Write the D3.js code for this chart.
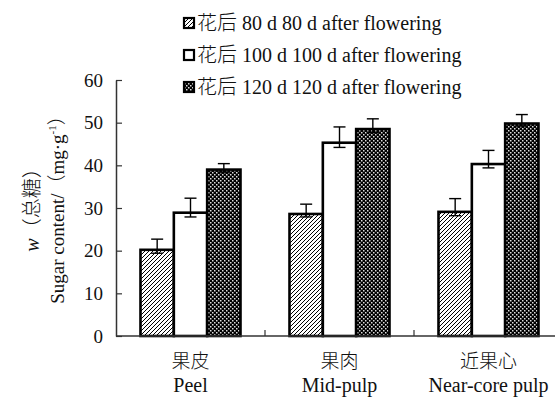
<!DOCTYPE html>
<html lang="en">
<head>
<meta charset="utf-8">
<title>Sugar content</title>
<script src="https://cdnjs.cloudflare.com/ajax/libs/d3/7.8.5/d3.min.js"></script>
<style>
  body { margin: 0; background: #fff; }
  svg text { font-family: "Liberation Serif", "Noto Sans CJK SC", serif; fill: #111; }
</style>
</head>
<body>
<script>
// categories and series
var categoriesCn = ["果皮", "果肉", "近果心"];
var categoriesEn = ["Peel", "Mid-pulp", "Near-core pulp"];
var seriesNames = ["花后 80 d 80 d after flowering", "花后 100 d 100 d after flowering", "花后 120 d 120 d after flowering"];
var d80 = [20.2, 28.6, 29.1];
var d100 = [28.9, 45.3, 40.3];
var d120 = [39.0, 48.5, 49.8];
// error bars as drawn (upper whisker, short lower cap)
var errUp80 = [2.5, 2.3, 3.1];
var errUp100 = [3.4, 3.7, 3.2];
var errUp120 = [1.4, 2.4, 2.1];
var errDn80 = [0.8, 0.7, 0.9];
var errDn100 = [1.0, 1.1, 0.9];
var errDn120 = [0.6, 0.8, 0.6];
var yTicks = [0, 10, 20, 30, 40, 50, 60];

var width = 555, height = 398;
var svg = d3.select("body").append("svg").attr("width", width).attr("height", height);

var defs = svg.append("defs");
// diagonal hatch
var hatch = defs.append("pattern").attr("id", "hatch").attr("patternUnits", "userSpaceOnUse")
  .attr("width", 4).attr("height", 4);
hatch.append("rect").attr("width", 4).attr("height", 4).attr("fill", "#fff");
hatch.append("path").attr("d", "M-1,1 l2,-2 M0,4 l4,-4 M3,5 l2,-2")
  .attr("stroke", "#000").attr("stroke-width", 1);
// dark checker
var check = defs.append("pattern").attr("id", "check").attr("patternUnits", "userSpaceOnUse")
  .attr("width", 4).attr("height", 4);
check.append("rect").attr("width", 4).attr("height", 4).attr("fill", "#000");
check.append("rect").attr("x", 0).attr("y", 0).attr("width", 1.5).attr("height", 1.5).attr("fill", "#ddd");
check.append("rect").attr("x", 2).attr("y", 2).attr("width", 1.5).attr("height", 1.5).attr("fill", "#ddd");

var fills = ["url(#hatch)", "#fff", "url(#check)"];

var x0 = 116, x1 = 563, yTop = 80, yBot = 336;
var x = d3.scaleBand().domain(categoriesEn).range([x0, x1]).padding(0);
var sub = d3.scaleBand().domain([0, 1, 2]).range([24.5, 124.5]).padding(0);
var y = d3.scaleLinear().domain([0, 60]).range([yBot, yTop]);

var series = [
  {vals: d80, up: errUp80, dn: errDn80},
  {vals: d100, up: errUp100, dn: errDn100},
  {vals: d120, up: errUp120, dn: errDn120}
];

// bars
var groups = svg.selectAll(".grp").data(categoriesEn).enter().append("g")
  .attr("class", "grp")
  .attr("transform", function(d) { return "translate(" + x(d) + ",0)"; });

groups.each(function(cat, ci) {
  var g = d3.select(this);
  series.forEach(function(s, si) {
    g.append("rect")
      .attr("x", sub(si))
      .attr("y", y(s.vals[ci]))
      .attr("width", sub.bandwidth())
      .attr("height", yBot - y(s.vals[ci]))
      .attr("fill", fills[si])
      .attr("stroke", "#000")
      .attr("stroke-width", 2.6);
  });
  series.forEach(function(s, si) {
    var cx = sub(si) + sub.bandwidth() / 2;
    var hi = y(s.vals[ci] + s.up[ci]), lo = y(s.vals[ci] - s.dn[ci]);
    g.append("line").attr("x1", cx).attr("x2", cx).attr("y1", hi).attr("y2", lo)
      .attr("stroke", "#000").attr("stroke-width", 1.4);
    [hi, lo].forEach(function(v) {
      g.append("line").attr("x1", cx - 6).attr("x2", cx + 6).attr("y1", v).attr("y2", v)
        .attr("stroke", "#000").attr("stroke-width", 1.4);
    });
  });
});

// y axis
var yAxis = svg.append("g").attr("transform", "translate(" + x0 + ",0)")
  .call(d3.axisLeft(y).tickValues(yTicks).tickSizeInner(-6).tickSizeOuter(0).tickPadding(13));
yAxis.select(".domain").attr("stroke", "#333").attr("stroke-width", 1.5);
yAxis.selectAll(".tick line").attr("stroke", "#333").attr("stroke-width", 1.2);
yAxis.selectAll(".tick text").attr("font-size", 19).attr("fill", "#111")
  .attr("font-family", "Liberation Serif, serif");

// x axis baseline and category ticks
svg.append("line").attr("x1", x0).attr("x2", x1).attr("y1", yBot).attr("y2", yBot)
  .attr("stroke", "#333").attr("stroke-width", 1.5);
svg.selectAll(".xtick").data(categoriesEn.slice(1)).enter().append("line")
  .attr("x1", function(d) { return x(d); }).attr("x2", function(d) { return x(d); })
  .attr("y1", yBot).attr("y2", yBot - 6)
  .attr("stroke", "#333").attr("stroke-width", 1.2);

// x labels
svg.selectAll(".xcn").data(categoriesCn).enter().append("text")
  .attr("x", function(d, i) { return x(categoriesEn[i]) + x.bandwidth() / 2; })
  .attr("y", 368).attr("text-anchor", "middle").attr("font-size", 19)
  .attr("font-family", "Noto Sans CJK SC").attr("font-weight", 300)
  .text(function(d) { return d; });
svg.selectAll(".xen").data(categoriesEn).enter().append("text")
  .attr("x", function(d) { return x(d) + x.bandwidth() / 2; })
  .attr("y", 392).attr("text-anchor", "middle").attr("font-size", 20)
  .text(function(d) { return d; });

// y title
var yt = svg.append("g").attr("transform", "translate(0,205) rotate(-90)");
var t1 = yt.append("text").attr("x", 0).attr("y", 39).attr("text-anchor", "middle").attr("font-size", 20);
t1.append("tspan").attr("font-style", "italic").text("w");
t1.append("tspan").attr("font-family", "Noto Sans CJK SC").attr("font-weight", 300).text("（总糖）");
var t2 = yt.append("text").attr("x", 0).attr("y", 64).attr("text-anchor", "middle").attr("font-size", 19);
t2.append("tspan").text("Sugar content/");
t2.append("tspan").attr("font-family", "Noto Sans CJK SC").attr("font-weight", 300).text("（");
t2.append("tspan").text("mg·g");
t2.append("tspan").attr("font-size", 11).attr("dy", -8).text("-1");
t2.append("tspan").attr("dy", 8).attr("font-family", "Noto Sans CJK SC").attr("font-weight", 300).text("）");

// legend
var legend = svg.selectAll(".leg").data(seriesNames).enter().append("g")
  .attr("transform", function(d, i) { return "translate(184," + (23 + i * 32) + ")"; });
legend.append("rect").attr("x", 0).attr("y", -5).attr("width", 10).attr("height", 10)
  .attr("fill", function(d, i) { return fills[i]; })
  .attr("stroke", "#000").attr("stroke-width", 2.2);
legend.each(function(d) {
  var t = d3.select(this).append("text").attr("x", 13).attr("y", 7).attr("font-size", 20);
  t.append("tspan").attr("font-family", "Noto Sans CJK SC").attr("font-weight", 300).text(d.slice(0, 2));
  t.append("tspan").text(d.slice(2));
});
</script>
</body>
</html>
